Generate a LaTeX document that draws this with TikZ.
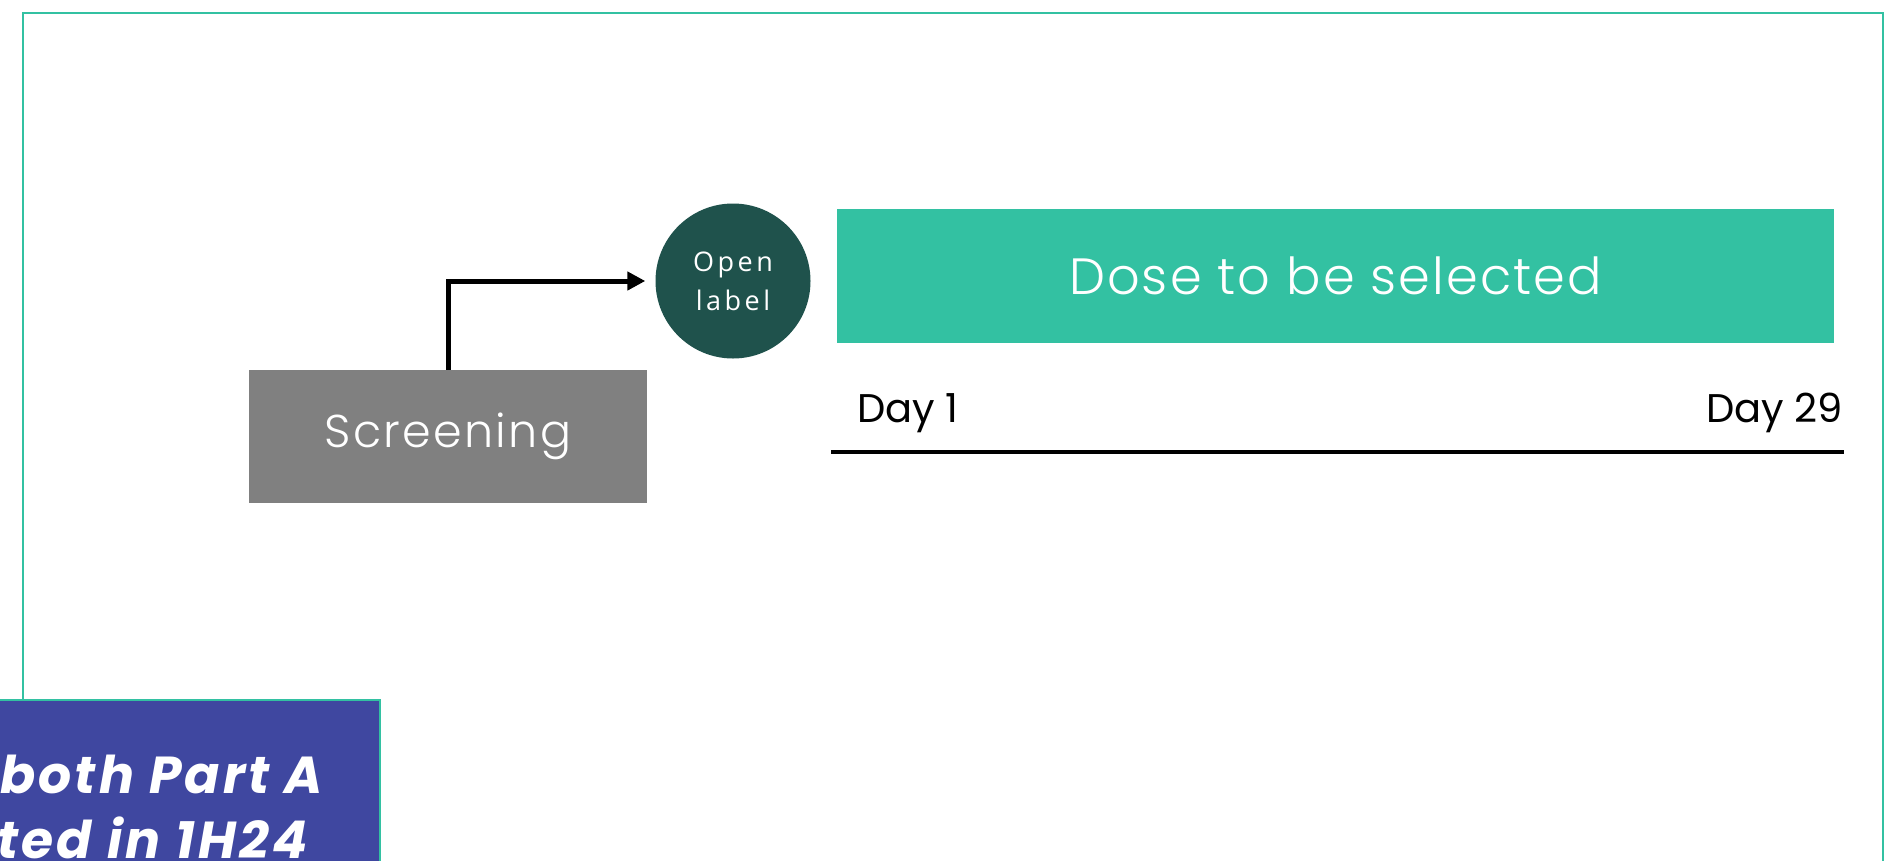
\documentclass[tikz,border=0pt]{standalone}
\usepackage{fontspec}
\setmainfont{Poppins}
\newfontfamily\lightf{Poppins}[UprightFont=* Light, LetterSpace=5]
\newfontfamily\dosef{Poppins}[UprightFont=* Light, LetterSpace=4]
\newfontfamily\dayf{Poppins}
\newfontfamily\boldf{Poppins}[LetterSpace=6]
\newfontfamily\osans{Open Sans}[LetterSpace=13]
\usetikzlibrary{arrows.meta}
\definecolor{frameteal}{HTML}{33C1A2}
\definecolor{darkteal}{HTML}{1F524C}
\definecolor{boxgrey}{HTML}{808080}
\definecolor{purplebox}{HTML}{3F47A0}
\tikzset{
  screenbox/.style={rectangle, fill=boxgrey, inner sep=0pt, text=white,
    font=\lightf\fontsize{46}{56}\selectfont},
  dosebox/.style={rectangle, fill=frameteal, inner sep=0pt, text=white,
    font=\dosef\fontsize{51}{62}\selectfont},
  olcircle/.style={circle, fill=darkteal, inner sep=0pt, text=white, align=center,
    font=\osans\fontsize{27}{39}\selectfont},
  daylabel/.style={inner sep=0pt, text=black, font=\dayf\fontsize{40}{48}\selectfont},
  notetext/.style={inner sep=0pt, text=white, font=\boldf\bfseries\itshape\fontsize{52}{65}\selectfont},
  flow/.style={line width=5pt, -{Triangle[length=18pt,width=18pt]}},
}
\begin{document}
\begin{tikzpicture}[x=1pt,y=-1pt]
\useasboundingbox (0,0) rectangle (1901,860);
\clip (0,0) rectangle (1901,860);
\fill[white] (0,0) rectangle (1901,860);
% outer frame
\draw[frameteal, line width=2.5pt] (23,13) rectangle (1883,920);
% screening
\node[screenbox, minimum width=398pt, minimum height=133pt] (scr) at (448,436.5) {\raisebox{-3pt}{Screening}};
% open label circle
\node[olcircle, minimum size=155pt] (ol) at (733,281) {Open\\label};
% dose bar
\node[dosebox, minimum width=997pt, minimum height=134pt] (dose) at (1335.5,276) {Dose to be selected};
% arrow
\draw[flow, shorten >=10pt] (scr.north) |- (ol.west);
% timeline
\coordinate (t1) at (831,452);
\coordinate (t2) at (1844,452);
\draw[line width=4pt] (t1) -- (t2);
\node[daylabel, anchor=base west] (d1) at (857,422) {Day 1};
\node[daylabel, anchor=base east] (d29) at (1843,422) {Day 29};
% purple note box
\draw[frameteal, line width=2.5pt, fill=purplebox] (-10,700) rectangle (380,900);
\node[notetext, anchor=base west] (n1) at (0,793) {both Part A};
\node[notetext, anchor=base west] (n2) at (-3,858) {ted in 1H24};
\end{tikzpicture}
\end{document}
